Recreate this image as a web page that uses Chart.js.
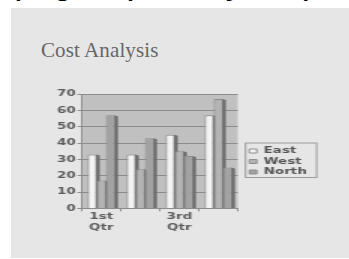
<!DOCTYPE html>
<html>
<head>
<meta charset="utf-8">
<script src="https://cdn.jsdelivr.net/npm/chart.js@4"></script>
<style>
  html, body { margin: 0; padding: 0; background: #fff; }
  body { width: 349px; height: 259px; position: relative; overflow: hidden; }
  #caption {
    position: absolute; left: 8px; top: -39px; white-space: nowrap;
    font: 38px/38px "Liberation Sans", Arial, sans-serif; color: #000;
  }
  #slide {
    position: absolute; left: 11px; top: 8px; width: 338px; height: 250px;
    background: #e6e6e6;
  }
  #title {
    position: absolute; left: 41px; top: 38px; white-space: nowrap;
    font: 21px "Liberation Serif", "Times New Roman", serif; letter-spacing: 0.1px;
    color: #666;
  }
  #chart {
    position: absolute; left: 0; top: 0;
    transform: scaleX(1.5); transform-origin: 0 0;
  }
</style>
</head>
<body>
<div id="caption">(Figure) Analysis plot</div>
<div id="slide"></div>
<div id="title">Cost Analysis</div>
<canvas id="chart" width="233" height="259"></canvas>
<script>
const quarters = ['1st Qtr', '2nd Qtr', '3rd Qtr', '4th Qtr'];
const east = [33, 33, 45, 57];
const west = [17, 24, 35, 67];
const north = [57, 43, 32, 25];
const yTicks = [0, 10, 20, 30, 40, 50, 60, 70];

const tickFont = { family: 'DejaVu Sans', size: 9, weight: 'bold' };
const textColor = '#5c5c5c';
const gridColor = '#8c8c8c';

// plot background, 3-D side faces of the columns and the legend frame
const slideLook = {
    id: 'slideLook',
    afterLayout(chart) {
        const lg = chart.legend;
        const w = lg.width;
        lg.left = 164.7; lg.right = lg.left + w;
        lg.top -= 2; lg.bottom -= 2;
    },
    beforeDraw(chart) {
        const { ctx, chartArea: a } = chart;
        ctx.save();
        ctx.fillStyle = '#c0c0c0';
        ctx.fillRect(a.left, a.top, a.width, a.height);
        ctx.restore();
    },
    beforeDatasetsDraw(chart) {
        const ctx = chart.ctx;
        ctx.save();
        ctx.fillStyle = '#6c6c6c';
        chart.data.datasets.forEach((ds, i) => {
            chart.getDatasetMeta(i).data.forEach(bar => {
                const r = bar.x + bar.width / 2;
                ctx.beginPath();
                ctx.moveTo(r - 0.5, bar.y);
                ctx.lineTo(r + 2, bar.y + 1);
                ctx.lineTo(r + 2, bar.base);
                ctx.lineTo(r - 0.5, bar.base);
                ctx.closePath();
                ctx.fill();
            });
        });
        ctx.restore();
    },
    afterDraw(chart) {
        const { ctx } = chart;
        const lg = chart.legend;
        const pad = lg.options.labels.padding;
        const col = lg.columnSizes[0];
        const top = (lg.top + pad + lg.bottom - col.height) / 2;
        ctx.save();
        ctx.strokeStyle = '#9a9a9a';
        ctx.lineWidth = 1;
        ctx.strokeRect(lg.left + pad - 2.5, top - 3.5, col.width + 9, col.height + 3);
        ctx.restore();
    }
};

new Chart(document.getElementById('chart'), {
    type: 'bar',
    data: {
        labels: quarters,
        datasets: [
            { label: 'East', data: east, backgroundColor: '#f3f3f3', borderColor: '#8e8e8e', borderWidth: 1 },
            { label: 'West', data: west, backgroundColor: '#b4b4b4', borderColor: '#8e8e8e', borderWidth: 1 },
            { label: 'North', data: north, backgroundColor: '#a2a2a2', borderColor: '#8e8e8e', borderWidth: 1 }
        ]
    },
    options: {
        responsive: false,
        devicePixelRatio: 1,
        animation: false,
        datasets: { bar: { categoryPercentage: 0.7, barPercentage: 1 } },
        layout: { padding: { left: 37, right: 34, top: 94, bottom: 26 } },
        plugins: {
            tooltip: { enabled: false },
            legend: {
                position: 'right',
                labels: { boxWidth: 5, boxHeight: 4, padding: 1.5, font: tickFont, color: '#555' }
            }
        },
        scales: {
            x: {
                grid: { display: true, drawOnChartArea: false, color: gridColor, tickLength: 3 },
                border: { color: gridColor },
                ticks: {
                    font: tickFont, color: textColor, padding: 0, maxRotation: 0, autoSkip: false,
                    callback(value, i) { return i % 2 ? '' : quarters[i].split(' '); }
                }
            },
            y: {
                min: 0, max: 70,
                afterBuildTicks(scale) { scale.ticks = yTicks.map(v => ({ value: v })); },
                grid: { color: gridColor, tickLength: 3 },
                border: { color: gridColor },
                ticks: { font: tickFont, color: textColor, padding: 1 }
            }
        }
    },
    plugins: [slideLook]
});
</script>
</body>
</html>
